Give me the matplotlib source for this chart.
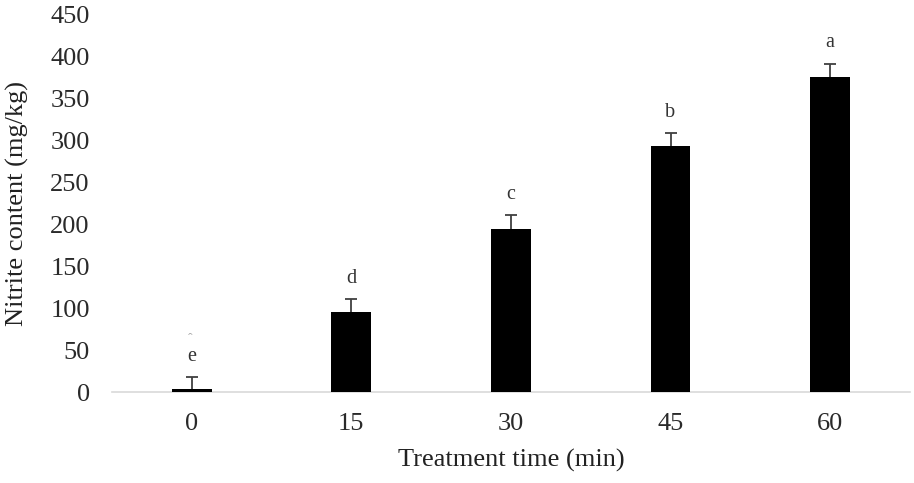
import matplotlib
matplotlib.use("Agg")
import matplotlib.pyplot as plt
import numpy as np

# data
times = ["0", "15", "30", "45", "60"]
nitrite = [4, 95, 195, 294, 376]
errors = [14, 16, 16, 15, 16]
letters = ["e", "d", "c", "b", "a"]

plt.rcParams["font.family"] = ["Liberation Serif", "DejaVu Serif"]

fig = plt.figure(figsize=(9.14, 4.83), dpi=100)
ax = fig.add_axes([0.1225, 0.1884, 0.873, 0.7806])

x = np.arange(len(times))
tops = np.array(nitrite) + np.array(errors)
ax.bar(x, nitrite, width=0.25, color="black", zorder=3)
# upper-only error bars: stem plus a cap at the top end
ax.errorbar(x, nitrite, yerr=[np.zeros(len(errors)), errors], fmt="none",
            ecolor="#404040", elinewidth=1.3, capsize=0, zorder=2)
ax.scatter(x, tops, marker="_", s=64, linewidths=1.3, color="#404040", zorder=2)

for xi, t, lab in zip(x, tops, letters):
    ax.annotate(lab, (xi, t), xytext=(0, 8), textcoords="offset points",
                ha="center", va="bottom", fontsize=14.5, color="#333333")
# small stray mark above the first letter in the original figure
ax.annotate("ˆ", (x[0], tops[0]), xytext=(-1, 22),
            textcoords="offset points", ha="center", va="bottom",
            fontsize=10, color="#aaaaaa")

ax.set_xlim(-0.5, len(times) - 0.5)
ax.set_ylim(0, 450)
ax.set_yticks(np.arange(0, 451, 50))
ax.set_xticks(x, times)
ax.tick_params(axis="both", length=0, labelsize=19, colors="#2a2a2a")
ax.tick_params(axis="y", pad=16)
ax.tick_params(axis="x", pad=15)
for s in ["top", "right", "left"]:
    ax.spines[s].set_visible(False)
ax.spines["bottom"].set_color("#d9d9d9")
ax.spines["bottom"].set_linewidth(1.2)

ax.set_xlabel("Treatment time (min)", fontsize=19, color="#222222", labelpad=10)
ax.set_ylabel("Nitrite content (mg/kg)", fontsize=19, color="#222222", labelpad=15)

fig.savefig("out.png", dpi=100, facecolor="white")
